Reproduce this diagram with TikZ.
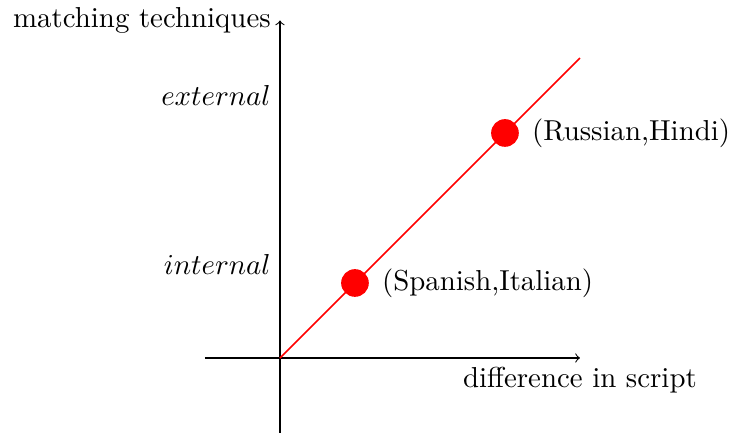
\documentclass[tikz,border=0pt]{standalone}
\usepackage{tikz}
\usetikzlibrary{positioning}

\begin{document}
\begin{tikzpicture}[
  font=\fontsize{10.95}{13.6}\selectfont,
  axis/.style={->},
  redline/.style={draw=red,semithick},
  dot/.style={circle,fill=red,inner sep=0pt,minimum size=10.5pt},
  lbl/.style={inner sep=3.33pt}
]
\useasboundingbox (-3.733,-0.987) rectangle (6.027,4.773);
\coordinate (O) at (0,0);
\coordinate (xl) at (-1,0);
\coordinate (xr) at (4,0);
\coordinate (yb) at (0,-1);
\coordinate (yt) at (0,4.5);
\coordinate (end) at (4,4);
\draw[axis] (xl) -- (xr);
\draw[axis] (yb) -- (yt);
\node[lbl,anchor=east] (ylab) at (yt) {matching techniques};
\node[lbl,anchor=north] (xlab) at (xr) {difference in script};
\node[lbl,anchor=east] (ext) at (0,3.5) {$external$};
\node[lbl,anchor=east] (int) at (0,1.25) {$internal$};
\draw[redline] (O) -- (end);
\node[dot] (sp) at (1,1) {};
\node[dot] (ru) at (3,3) {};
\node[lbl,right=1.3pt of sp] (splab) {(Spanish,Italian)};
\node[lbl,right=1.3pt of ru] (rulab) {(Russian,Hindi)};
\end{tikzpicture}
\end{document}
